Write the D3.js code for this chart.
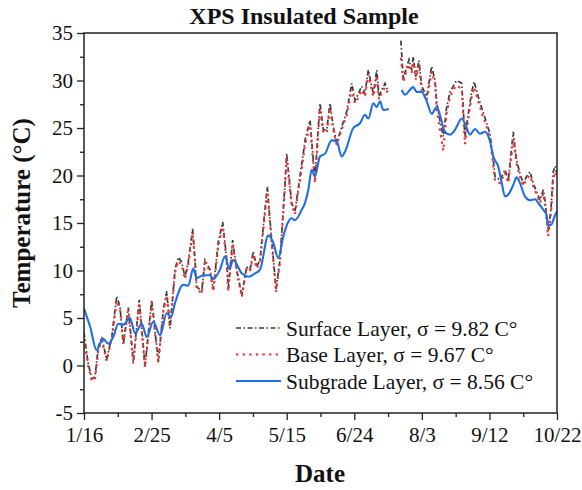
<!DOCTYPE html>
<html>
<head>
<meta charset="utf-8">
<script src="https://cdn.jsdelivr.net/npm/d3@7"></script>
<style>
  html, body { margin: 0; padding: 0; background: #fff; }
  svg { display: block; }
  text { font-family: "Liberation Serif", "Times New Roman", serif; fill: #111; }
</style>
</head>
<body>
<svg id="chart" width="582" height="490"></svg>
<script>
// Days since 16 Jan 2020 and temperatures (°C); null marks the logging gap.
const surfaceDays = [0,2.4,4.6,6.5,8.5,10.5,13.4,16.4,19.4,21.3,23.3,26.2,29.2,32.7,36.1,40.1,44.0,46.9,49.0,50.9,53.9,55.8,57.8,59.8,61.7,64.3,65.7,66.7,69.7,71.6,74.6,76.5,79.5,82.1,84.5,85.4,88.0,90.4,93.4,96.3,98.3,100.2,102.2,104.2,107.1,108.5,111.1,113.7,116.0,119.0,120.0,122.9,124.9,127.5,129.8,130.8,133.8,136.7,138.7,139.7,141.7,143.7,145.6,147.6,149.6,152.5,155.5,158.5,160.4,162.4,164.4,166.3,168.3,170.3,171.3,173.3,174.6,176.2,178.2,180.1,184,187.6,189.0,190.0,192.4,194.0,194.9,196.4,198.3,199.9,202.9,205.8,207.8,208.8,210.7,212.7,214.7,216.7,218.6,220.6,223.6,225.5,227.5,229.5,230.9,233.4,235.8,238.4,240.3,242.3,243.3,246.3,249.2,251.2,254.1,255.1,256.1,258.1,260.0,262.0,264.0,265.9,267.9,269.9,271.9,272.9,274.5,274.8,276.4,277.8,278.8,279.6];
const surfaceTemp = [3.5,0.3,-1.4,-1.2,2.0,3.0,0.6,3.0,7.3,6.2,2.2,6.1,0.4,6.9,-0.1,6.9,0.4,5.8,7.8,3.9,10.1,11.4,10.9,9.3,10.9,14.4,11.1,8.3,7.8,11.1,10.1,8.0,13.0,15.1,11.1,8.0,13.2,10.1,7.4,10.4,10.1,12.0,10.4,11.1,16.4,18.8,13.2,8.0,11.1,19.2,22.3,17.1,16.2,19.5,22.3,23.7,25.8,19.5,25.1,27.6,24.8,24.8,27.6,25.1,23.4,25.1,26.7,29.7,27.9,28.6,29.4,28.6,31.1,29.4,28.6,31.1,28.3,29.0,29.7,28.8,null,34.2,30.0,30.8,32.2,31.1,32.5,30.4,32.1,29.4,28.3,31.5,30.0,27.6,25.8,24.1,27.2,28.8,29.4,30.0,29.7,24.1,26.5,28.8,29.9,28.3,26.9,25.5,24.4,21.6,19.9,19.5,20.6,19.5,24.6,23.0,21.6,20.2,19.2,19.9,20.4,19.2,18.3,17.4,18.5,17.4,14.6,14.2,16.4,20.4,21.0,20.4];

const baseDays = [0,2.4,4.6,6.5,8.5,10.5,13.4,16.4,19.4,21.3,23.3,26.2,29.2,32.7,36.1,40.1,44.0,46.9,49.0,50.9,53.9,55.8,57.8,59.8,61.7,64.3,65.7,66.7,69.7,71.6,74.6,76.5,79.5,82.1,84.5,85.4,88.0,90.4,93.4,96.3,98.3,100.2,102.2,104.2,107.1,108.5,111.1,113.7,116.0,119.0,120.0,122.9,124.9,127.5,129.8,130.8,133.8,136.7,138.7,139.7,141.7,143.7,145.6,147.6,149.6,152.5,155.5,158.5,160.4,162.4,164.4,166.3,168.3,170.3,171.3,173.3,174.6,176.2,178.2,180.1,184,187.6,189.0,190.0,192.4,194.0,194.9,196.4,198.3,199.9,202.9,205.8,207.8,208.8,210.7,212.7,214.7,216.7,218.6,220.6,223.6,225.5,227.5,229.5,230.9,233.4,235.8,238.4,240.3,242.3,243.3,246.3,249.2,251.2,254.1,255.1,256.1,258.1,260.0,262.0,264.0,265.9,267.9,269.9,271.9,272.9,274.5,274.8,276.4,277.8,278.8,279.6];
const baseTemp = [2.8,0.0,-1.6,-1.5,1.6,2.7,0.5,2.8,6.8,6.0,2.3,5.8,0.2,6.6,-0.2,6.6,0.3,5.6,7.4,4.0,9.8,11.0,10.6,9.1,10.6,14.0,11.0,8.0,7.6,10.8,9.9,7.8,12.6,14.6,11.0,7.8,12.8,9.9,7.2,10.2,9.9,11.7,10.2,10.9,16.0,18.3,13.0,7.7,10.9,18.8,21.8,16.9,15.9,19.1,21.8,23.2,25.3,19.2,24.6,27.0,24.5,24.5,27.1,24.8,23.2,24.8,26.3,29.1,27.6,28.2,29.0,28.3,30.6,29.0,28.3,30.5,28.0,28.7,29.3,28.5,null,32.4,29.8,30.5,31.7,30.8,31.9,30.1,31.6,29.0,27.9,30.9,29.6,27.0,24.8,22.6,26.6,28.3,29.0,29.5,29.1,23.3,26.0,28.3,29.3,27.8,26.4,25.1,23.9,21.0,19.4,19.2,20.3,19.2,23.8,22.5,21.2,19.9,18.9,19.6,20.0,18.9,18.0,17.1,18.1,17.0,14.0,13.6,15.9,19.6,20.4,20.0];

const subgradeDays = [0,3.6,7.5,9.5,11.4,14.4,17.3,20.3,23.3,27.2,30.2,34.2,37.1,41.0,45.0,49.0,51.5,53.9,58.8,61.7,64.7,66.7,70.6,74.6,76.5,80.5,83.5,86.0,88.4,93.4,97.3,101.2,104.2,109.1,112.1,115.0,118.0,120.9,122.9,124.9,128.9,130.8,132.8,134.8,136.7,139.7,142.7,146.6,149.6,152.5,154.5,159.4,163.4,166.3,168.3,171.3,173.3,175.2,177.2,180.5,184,188.1,190.0,194.9,196.9,199.9,202.9,205.8,208.8,210.7,212.7,214.7,216.7,219.6,223.6,225.5,228.5,231.5,234.4,237.4,240.3,242.3,245.3,247.3,249.2,251.2,254.1,256.1,258.1,261.0,264.0,267.0,268.9,271.9,273.9,274.8,276.4,278.8,280];
const subgradeTemp = [6.0,4.1,1.6,2.3,2.8,2.3,3.0,4.4,4.3,5.0,3.4,4.4,3.0,4.6,3.2,5.5,5.1,6.6,8.5,8.4,10.2,9.2,9.5,9.5,9.1,10.1,11.5,10.2,11.1,9.7,9.35,9.7,10.1,13.7,12.9,11.3,13.6,15.1,15.5,15.3,16.4,17.1,18.5,20.6,19.9,22.0,22.3,23.7,23.6,22.0,22.5,25.0,25.5,26.4,26.0,27.6,27.2,27.8,26.9,27.0,null,29.0,28.5,29.3,28.8,28.8,27.8,26.5,27.2,26.4,25.0,24.4,24.3,24.8,26.0,25.5,24.3,24.9,24.4,24.6,23.6,22.0,20.9,19.2,17.8,18.0,19.0,19.8,19.2,17.8,17.4,17.5,17.1,16.4,15.8,14.8,14.8,15.8,16.2];

const xTickLabels = ["1/16","2/25","4/5","5/15","6/24","8/3","9/12","10/22"];
const yTickValues = [-5,0,5,10,15,20,25,30,35];

const seriesNames = ["Surface Layer, \u03c3 = 9.82 C\u00b0", "Base Layer, \u03c3 = 9.67 C\u00b0", "Subgrade Layer, \u03c3 = 8.56 C\u00b0"];

// ---- drawing ----
const startDate = new Date(2020, 0, 16);
const toDate = d => new Date(startDate.getTime() + d * 864e5);

const svg = d3.select("#chart");
const plotLeft = 84, plotRight = 557, plotTop = 33, plotBottom = 413;

const x = d3.scaleTime()
  .domain([startDate, d3.timeDay.offset(startDate, 280)])
  .range([plotLeft, plotRight]);
const y = d3.scaleLinear().domain([-5, 35]).range([plotBottom, plotTop]);

const majorDates = d3.range(0, 281, 40).map(d => d3.timeDay.offset(startDate, d));
const minorDates = d3.range(20, 281, 40).map(d => d3.timeDay.offset(startDate, d));
const minorY = d3.range(-2.5, 35, 5);

const ink = "#222";
const tickFont = 21;

// minor ticks
svg.append("g").attr("transform", `translate(0,${plotBottom})`)
  .call(d3.axisBottom(x).tickValues(minorDates).tickSize(4).tickFormat(""))
  .call(g => g.select(".domain").remove())
  .call(g => g.selectAll("line").attr("stroke", ink).attr("stroke-width", 1.3));
svg.append("g").attr("transform", `translate(${plotLeft},0)`)
  .call(d3.axisLeft(y).tickValues(minorY).tickSize(4).tickFormat(""))
  .call(g => g.select(".domain").remove())
  .call(g => g.selectAll("line").attr("stroke", ink).attr("stroke-width", 1.3));

// major ticks + labels
const xAxis = svg.append("g").attr("transform", `translate(0,${plotBottom})`)
  .call(d3.axisBottom(x).tickValues(majorDates).tickSize(7).tickPadding(7)
    .tickFormat((d, i) => xTickLabels[i]));
xAxis.select(".domain").remove();
xAxis.selectAll("line").attr("stroke", ink).attr("stroke-width", 1.3);
xAxis.selectAll("text").attr("font-size", tickFont).attr("font-family", "Liberation Serif").attr("fill", "#111");

const yAxis = svg.append("g").attr("transform", `translate(${plotLeft},0)`)
  .call(d3.axisLeft(y).tickValues(yTickValues).tickSize(7).tickPadding(4)
    .tickFormat(d => String(d)));
yAxis.select(".domain").remove();
yAxis.selectAll("line").attr("stroke", ink).attr("stroke-width", 1.3);
yAxis.selectAll("text").attr("font-size", tickFont).attr("font-family", "Liberation Serif").attr("fill", "#111");

// series
const mk = (days, temps) => days.map((d, i) => ({ date: toDate(d), v: temps[i] }));
const surface = mk(surfaceDays, surfaceTemp);
const base = mk(baseDays, baseTemp);
const subgrade = mk(subgradeDays, subgradeTemp);

const plot = svg.append("g");
plot.append("clipPath").attr("id", "clip").append("rect")
  .attr("x", plotLeft).attr("y", plotTop).attr("width", plotRight - plotLeft).attr("height", plotBottom - plotTop);
const clipped = plot.append("g").attr("clip-path", "url(#clip)");

const lineLin = d3.line().defined(d => d.v !== null).x(d => x(d.date)).y(d => y(d.v));
const lineSmooth = d3.line().defined(d => d.v !== null).x(d => x(d.date)).y(d => y(d.v)).curve(d3.curveMonotoneX);

const styles = [
  { color: "#3a3a3a", dash: "5,2.5,1.5,2.5", width: 1.7 },
  { color: "#f23434", dash: "2.4,4.2", width: 2.1 },
  { color: "#1f6fe3", dash: null, width: 2.1 }
];

clipped.append("path").datum(surface).attr("d", lineLin)
  .attr("fill", "none").attr("stroke", styles[0].color).attr("stroke-width", styles[0].width)
  .attr("stroke-dasharray", styles[0].dash);
clipped.append("path").datum(base).attr("d", lineLin)
  .attr("fill", "none").attr("stroke", styles[1].color).attr("stroke-width", styles[1].width)
  .attr("stroke-dasharray", styles[1].dash);
clipped.append("path").datum(subgrade).attr("d", lineSmooth)
  .attr("fill", "none").attr("stroke", styles[2].color).attr("stroke-width", styles[2].width);

// frame
svg.append("rect").attr("x", plotLeft).attr("y", plotTop)
  .attr("width", plotRight - plotLeft).attr("height", plotBottom - plotTop)
  .attr("fill", "none").attr("stroke", ink).attr("stroke-width", 1.5);

// legend
const legend = svg.append("g");
seriesNames.forEach((name, i) => {
  const ly = 328 + i * 26.5;
  legend.append("line").attr("x1", 236).attr("x2", 281).attr("y1", ly).attr("y2", ly)
    .attr("stroke", styles[i].color).attr("stroke-width", styles[i].width)
    .attr("stroke-dasharray", styles[i].dash);
  legend.append("text").attr("x", 286).attr("y", ly).attr("dy", "0.35em")
    .attr("font-size", 21.5).text(name);
});

// titles
svg.append("text").attr("x", 304).attr("y", 24).attr("text-anchor", "middle")
  .attr("font-size", 24).attr("font-weight", "bold").text("XPS Insulated Sample");
svg.append("text").attr("x", 320).attr("y", 482).attr("text-anchor", "middle")
  .attr("font-size", 25).attr("font-weight", "bold").text("Date");
svg.append("text").attr("transform", `translate(30,213) rotate(-90)`)
  .attr("text-anchor", "middle").attr("font-size", 25).attr("font-weight", "bold")
  .text("Temperature (\u00b0C)");
</script>
</body>
</html>
